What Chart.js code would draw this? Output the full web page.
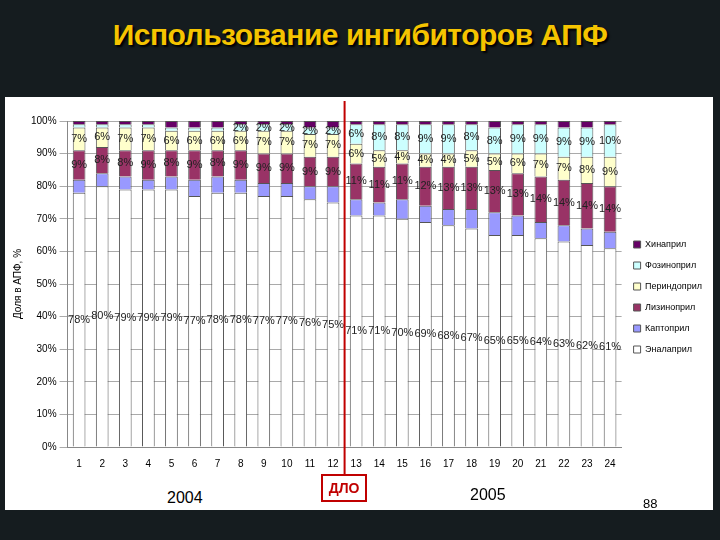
<!DOCTYPE html>
<html>
<head>
<meta charset="utf-8">
<script src="https://cdn.jsdelivr.net/npm/chart.js@4"></script>
<style>
  body { margin: 0; width: 720px; height: 540px; background: #151c1f; position: relative; overflow: hidden; font-family: "Liberation Sans", Arial, sans-serif; }
  #title { position: absolute; top: 18px; left: 0; width: 720px; text-align: center; color: #f5c400; font-size: 30px; font-weight: bold; letter-spacing: -0.5px; text-shadow: 2px 2px 2px #000; }
  #panel { position: absolute; left: 5px; top: 97px; width: 708px; height: 413px; background: #fff; }
  #wrap { position: absolute; left: 8px; top: 100px; width: 704px; height: 377px; }
  .lbl { position: absolute; font-size: 16px; color: #000; }
  #dlo { position: absolute; left: 321px; top: 474px; width: 42px; height: 24px; background: #fff; border: 2px solid #c00000; color: #c00000; font-weight: bold; font-size: 14px; text-align: center; line-height: 24px; }
</style>
</head>
<body>
<div id="title">Использование ингибиторов АПФ</div>
<div id="panel"></div>
<div id="wrap"><canvas id="chart"></canvas></div>
<div class="lbl" style="left:167px; top:489px;">2004</div>
<div class="lbl" style="left:470px; top:486px;">2005</div>
<div class="lbl" style="left:643px; top:496px; font-size:13px;">88</div>
<div id="dlo">ДЛО</div>
<script>
const months = ["1","2","3","4","5","6","7","8","9","10","11","12","13","14","15","16","17","18","19","20","21","22","23","24"];
const enalapril   = [78,80,79,79,79,77,78,78,77,77,76,75,71,71,70,69,68,67,65,65,64,63,62,61];
const captopril   = [4,4,4,3,4,5,5,4,4,4,4,5,5,4,6,5,5,6,7,6,5,5,5,5];
const lisinopril  = [9,8,8,9,8,9,8,9,9,9,9,9,11,11,11,12,13,13,13,13,14,14,14,14];
const perindopril = [7,6,7,7,6,6,6,6,7,7,7,7,6,5,4,4,4,5,5,6,7,7,8,9];
const fosinopril  = [1,1,1,1,1,1,1,2,2,2,2,2,6,8,8,9,9,8,8,9,9,9,9,10];
const quinapril   = [1,1,1,1,2,2,2,1,1,1,2,2,1,1,1,1,1,1,2,1,1,2,2,1];

const mk = (label, data, color, showLabel) => ({
    label, data, backgroundColor: color, borderColor: "#555", borderWidth: 1,
    barPercentage: 0.55, categoryPercentage: 1, showLabel
});

// Percent labels in the middle of segments
const labelPlugin = {
    id: "labels",
    afterDatasetsDraw(chart) {
        const ctx = chart.ctx;
        ctx.save();
        ctx.font = "11px 'Liberation Sans', Arial";
        ctx.fillStyle = "#222";
        ctx.textAlign = "center";
        ctx.textBaseline = "middle";
        chart.data.datasets.forEach((ds, i) => {
            if (!ds.showLabel) return;
            chart.getDatasetMeta(i).data.forEach((bar, j) => {
                if (ds.data[j] < 2) return;
                ctx.fillText(ds.data[j] + "%", bar.x, (bar.y + bar.base) / 2);
            });
        });
        // DLO separator line
        const x = chart.scales.x;
        const lx = (x.getPixelForValue(11) + x.getPixelForValue(12)) / 2;
        ctx.strokeStyle = "#c00000";
        ctx.lineWidth = 2;
        ctx.beginPath();
        ctx.moveTo(lx, chart.chartArea.top - 20);
        ctx.lineTo(lx, chart.chartArea.bottom + 30);
        ctx.stroke();
        ctx.restore();
    }
};

new Chart(document.getElementById("chart"), {
    type: "bar",
    data: {
        labels: months,
        datasets: [
            mk("Эналаприл", enalapril, "#ffffff", true),
            mk("Каптоприл", captopril, "#9999ff", false),
            mk("Лизиноприл", lisinopril, "#993366", true),
            mk("Периндоприл", perindopril, "#ffffcc", true),
            mk("Фозиноприл", fosinopril, "#ccffff", true),
            mk("Хинаприл", quinapril, "#660066", false),
        ],
    },
    options: {
        responsive: true,
        maintainAspectRatio: false,
        animation: false,
        layout: { padding: { top: 21, right: 0, bottom: 4 } },
        plugins: {
            tooltip: { enabled: false },
            legend: {
                position: "right",
                reverse: true,
                labels: { boxWidth: 7, boxHeight: 7, font: { size: 9 }, color: "#000", padding: 12 },
            },
        },
        scales: {
            x: {
                stacked: true,
                grid: { display: false },
                border: { color: "#888" },
                ticks: { color: "#000", font: { size: 10 } },
            },
            y: {
                stacked: true,
                min: 0,
                max: 100,
                grid: { color: "#aaa" },
                border: { color: "#888" },
                ticks: { stepSize: 10, color: "#000", font: { size: 10 }, callback: v => v + "%" },
                title: { display: true, text: "Доля в АПФ, %", color: "#000", font: { size: 10 } },
            },
        },
    },
    plugins: [labelPlugin],
});
</script>
</body>
</html>
